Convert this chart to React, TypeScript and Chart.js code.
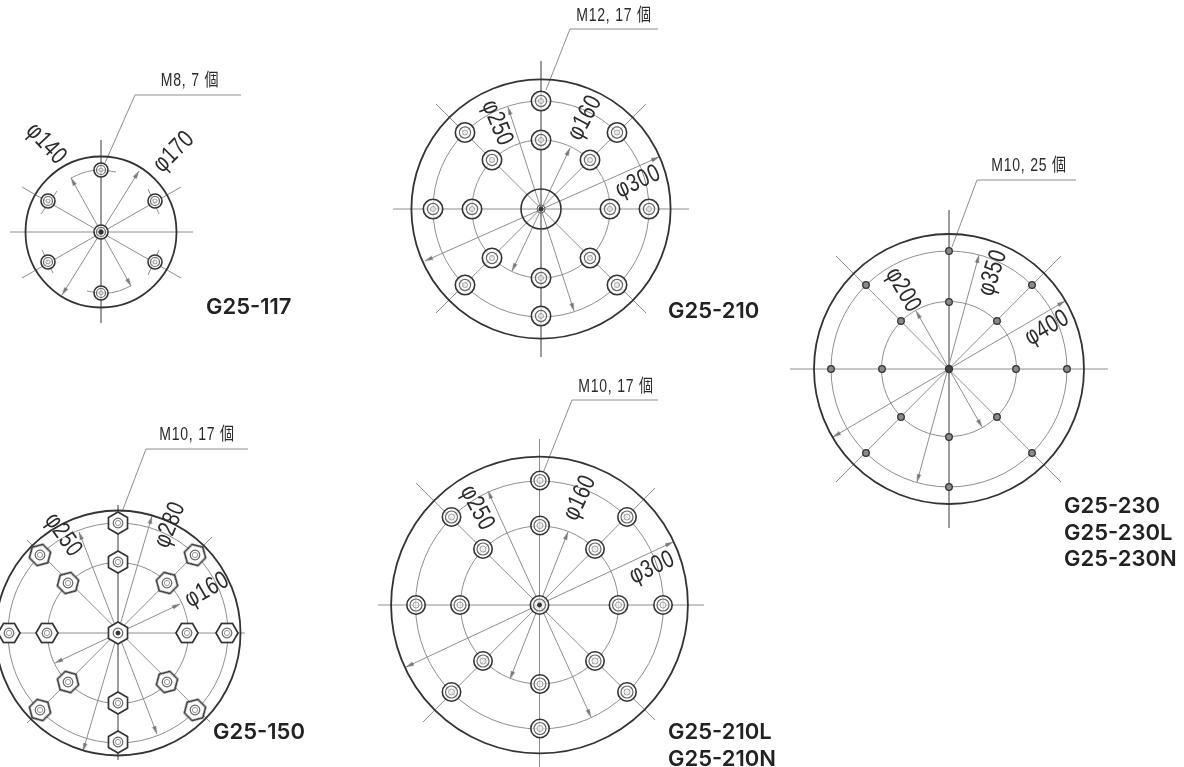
import React, { useEffect, useRef } from "react";
import { Chart, registerables } from "chart.js";

Chart.register(...registerables);

type P = [number, number];
type Seg = [number, number, number, number];

// ---- G25-117
const g117Center: P = [101, 232];
const g117Flange = 75.5;
const g117Bolts: P[] = [[101, 170], [48, 201], [155, 201], [48, 262], [155, 262], [101, 293]];
const g117Axes: Seg[] = [[101, 140, 101, 323], [10, 232, 193, 232], [22, 187, 181, 278], [181, 187, 22, 278]];
const g117Dims: Seg[] = [[139, 171, 62, 295], [71, 178, 131, 286]];
const g117Leader: P[] = [[105, 163], [135, 95], [241, 95]];
const g117ArcTop: P[] = [[71, 178], [80, 174], [90, 171], [101, 170], [116, 172]];
const g117ArcBottom: P[] = [[87, 291], [101, 293], [115, 292], [131, 286]];
const g117Ticks: Seg[] = [[57, 191, 41, 214], [148, 189, 159, 214], [42, 250, 53, 273], [159, 250, 148, 275]];

// ---- G25-210
const g210Center: P = [541, 209];
const g210Flange = 129.6;
const g210Hub = 20;
const g210Rings = [108, 69];
const g210Bolts: P[] = [
  [541, 101], [465, 132.5], [617, 132.5], [433, 209], [649, 209], [465, 285], [617, 285], [541, 316],
  [541, 140], [492, 160], [590, 160], [472, 209], [610, 209], [492, 258], [590, 258], [541, 278],
];
const g210Axes: Seg[] = [[541, 61, 541, 357], [393, 209, 689, 209], [436, 104, 646, 313], [646, 104, 436, 313]];
const g210Dims: Seg[] = [[659, 157, 425, 261], [508, 107, 574, 311], [570, 148, 512, 271]];
const g210Leader: P[] = [[546, 90], [570, 29], [658, 29]];

// ---- G25-230
const g230Center: P = [949, 369];
const g230Flange = 135;
const g230Rings = [118, 67.5];
const g230Bolts: P[] = [
  [949, 251], [866, 285], [1032, 285], [831, 369], [1067, 369], [866, 453], [1032, 453], [949, 487],
  [949, 302], [901, 321], [997, 321], [882, 369], [1016, 369], [901, 417], [997, 417], [949, 437],
];
const g230Axes: Seg[] = [[949, 210, 949, 528], [790, 369, 1108, 369], [836, 256, 1061, 482], [1061, 256, 836, 482]];
const g230Dims: Seg[] = [[1065, 301, 833, 437], [979, 255, 917, 482], [916, 311, 982, 427]];
const g230Leader: P[] = [[952, 247], [977, 180], [1076, 180]];

// ---- G25-150
const g150Center: P = [118, 633];
const g150Flange = 122.5;
const g150Rings = [110, 70.5];
const g150Bolts: P[] = [
  [118, 523], [40, 555], [195, 555], [9, 633], [227, 633], [40, 710], [195, 710], [118, 742],
  [118, 562], [68, 583], [167, 583], [47, 633], [187, 633], [68, 682], [167, 682], [118, 703],
];
const g150Axes: Seg[] = [[118, 505, 118, 760], [0, 633, 245, 633], [27, 540, 210, 722], [212, 537, 27, 723]];
const g150Dims: Seg[] = [[152, 516, 83, 751], [79, 532, 157, 734], [180, 604, 55, 663]];
const g150Leader: P[] = [[122, 512], [146, 449], [248, 449]];

// ---- G25-210L / N
const g210lCenter: P = [539.5, 605];
const g210lFlange = 148.4;
const g210lRings = [124, 79];
const g210lBolts: P[] = [
  [540, 480.5], [451.5, 517], [627, 517], [416, 605], [663, 605], [451.5, 692], [627, 692], [540, 728.5],
  [540, 525.5], [483, 549], [595, 549], [460, 605], [618.5, 605], [483, 661], [595, 661], [540, 684],
];
const g210lAxes: Seg[] = [[539.5, 439, 539.5, 767], [378, 605, 704, 605], [416, 483, 655, 720], [655, 488, 423, 722]];
const g210lDims: Seg[] = [[673, 542, 406, 667], [488, 491, 591, 717], [568, 532, 510, 679]];
const g210lLeader: P[] = [[543, 473], [572, 400], [658, 400]];

// ---- Text
const modelTexts = ["G25-117", "G25-210", "G25-230", "G25-230L", "G25-230N", "G25-150", "G25-210L", "G25-210N"];
const modelX = [206, 668, 1064, 1064, 1064, 213, 668, 668];
const modelY = [307, 311, 506, 533, 559, 732, 732, 759];

const calloutTexts = ["M8, 7 個", "M12, 17 個", "M10, 25 個", "M10, 17 個", "M10, 17 個"];
const calloutX = [190, 614, 1029, 197, 616];
const calloutY = [81, 16, 166, 435, 387];

const diaTexts = ["φ140", "φ170", "φ250", "φ160", "φ300", "φ200", "φ350", "φ400", "φ250", "φ280", "φ160", "φ250", "φ160", "φ300"];
const diaX = [46, 174, 497, 585, 638, 903, 993, 1047, 63, 170, 207, 477, 580, 652];
const diaY = [144, 152, 123, 118, 182, 290, 273, 328, 535, 525, 590, 508, 498, 568];
const diaAngle = [47, -45, 68, -62, -25, 60, -72, -30, 55, -68, -30, 62, -65, -25];

// ---- Colours
const DARK = "#333333";
const MID = "#666666";
const LIGHT = "#8e8e8e";
const PALE = "rgba(255,255,255,0.65)";

function hexagon(): HTMLCanvasElement {
  const c = document.createElement("canvas");
  c.width = 28;
  c.height = 28;
  const g = c.getContext("2d")!;
  g.strokeStyle = DARK;
  g.fillStyle = "#ffffff";
  g.lineWidth = 1.7;
  g.beginPath();
  for (let i = 0; i < 6; i++) {
    const a = (Math.PI / 3) * i;
    const x = 14 + 11 * Math.sin(a);
    const y = 14 - 11 * Math.cos(a);
    if (i === 0) g.moveTo(x, y);
    else g.lineTo(x, y);
  }
  g.closePath();
  g.fill();
  g.stroke();
  return c;
}

function arrowHead(): HTMLCanvasElement {
  const c = document.createElement("canvas");
  c.width = 7;
  c.height = 22;
  const g = c.getContext("2d")!;
  g.fillStyle = "#777777";
  g.beginPath();
  g.moveTo(3.5, 11);
  g.lineTo(1.4, 19);
  g.lineTo(5.6, 19);
  g.closePath();
  g.fill();
  return c;
}

const pts = (list: P[]) => list.map(([x, y]) => ({ x, y }));

function lineSet(list: P[], color: string, width: number, tension = 0) {
  return {
    type: "scatter" as const,
    data: pts(list),
    showLine: true,
    borderColor: color,
    borderWidth: width,
    pointRadius: 0,
    tension,
    fill: false,
  };
}

function ringSet(list: P[], radius: number, color: string, width: number, fill = "rgba(0,0,0,0)") {
  return {
    type: "scatter" as const,
    data: pts(list),
    showLine: false,
    pointStyle: "circle",
    pointRadius: radius,
    pointBorderColor: color,
    pointBorderWidth: width,
    pointBackgroundColor: fill,
  };
}

const bearing = (c: P, p: P) => (Math.atan2(p[0] - c[0], c[1] - p[1]) * 180) / Math.PI;

function arrowSet(center: P, dims: Seg[], img: HTMLCanvasElement) {
  const tips: P[] = [];
  dims.forEach(([a, b, c, d]) => {
    tips.push([a, b], [c, d]);
  });
  return {
    type: "scatter" as const,
    data: pts(tips),
    showLine: false,
    pointStyle: img as any,
    pointRadius: 5,
    pointRotation: tips.map((t) => bearing(center, t)),
  };
}

function segSets(list: Seg[], color: string, width: number) {
  return list.map(([a, b, c, d]) =>
    lineSet([[a, b], [c, d]], color, width),
  );
}

const textPlugin = {
  id: "drawingText",
  afterDatasetsDraw(chart: any) {
    const { ctx, scales } = chart;
    const X = scales.x;
    const Y = scales.y;
    ctx.save();
    ctx.textBaseline = "middle";
    ctx.fillStyle = "#222222";
    ctx.textAlign = "left";
    ctx.font = '600 22px Inter, "Noto Sans", sans-serif';
    modelTexts.forEach((t, i) => {
      ctx.fillText(t, X.getPixelForValue(modelX[i]), Y.getPixelForValue(modelY[i]));
    });
    ctx.textAlign = "center";
    ctx.fillStyle = "#2b2b2b";
    ctx.font = '18px "Liberation Sans", "Noto Sans CJK JP", sans-serif';
    ctx.letterSpacing = "1px";
    calloutTexts.forEach((t, i) => {
      ctx.save();
      ctx.translate(X.getPixelForValue(calloutX[i]), Y.getPixelForValue(calloutY[i]));
      ctx.scale(0.78, 1);
      ctx.fillText(t, 0, 0);
      ctx.restore();
    });
    ctx.font = '25px "Liberation Sans", sans-serif';
    ctx.letterSpacing = "0.5px";
    diaTexts.forEach((t, i) => {
      ctx.save();
      ctx.translate(X.getPixelForValue(diaX[i]), Y.getPixelForValue(diaY[i]));
      ctx.rotate((diaAngle[i] * Math.PI) / 180);
      ctx.scale(0.78, 1);
      ctx.fillText(t, 0, 0);
      ctx.restore();
    });
    ctx.restore();
  },
};

export default function App() {
  const ref = useRef<HTMLCanvasElement>(null);

  useEffect(() => {
    const hex = hexagon();
    const arrow = arrowHead();

    const datasets: any[] = [
      // G25-117
      ...segSets(g117Axes, LIGHT, 1),
      ...segSets(g117Dims, LIGHT, 1),
      ...segSets(g117Ticks, LIGHT, 1),
      lineSet(g117Leader, LIGHT, 1),
      lineSet(g117ArcTop, LIGHT, 1, 0.4),
      lineSet(g117ArcBottom, LIGHT, 1, 0.4),
      arrowSet(g117Center, g117Dims, arrow),
      ringSet([g117Center], g117Flange, DARK, 1.8),
      ringSet([...g117Bolts, g117Center], 7, DARK, 1.6, PALE),
      ringSet([...g117Bolts, g117Center], 4.5, MID, 1.2),
      ringSet(g117Bolts, 2, LIGHT, 0.8),
      ringSet([g117Center], 2.2, DARK, 1, DARK),

      // G25-210
      ...segSets(g210Axes, LIGHT, 1),
      ...segSets(g210Dims, LIGHT, 1),
      lineSet(g210Leader, LIGHT, 1),
      arrowSet(g210Center, g210Dims, arrow),
      ringSet([g210Center], g210Flange, DARK, 1.8),
      ringSet([g210Center], g210Rings[0], LIGHT, 1),
      ringSet([g210Center], g210Rings[1], LIGHT, 1),
      ringSet([g210Center], g210Hub, DARK, 1.6),
      ringSet(g210Bolts, 9.7, DARK, 1.6, PALE),
      ringSet(g210Bolts, 5.6, MID, 1.2),
      ringSet(g210Bolts, 2.5, LIGHT, 0.8),
      ringSet([g210Center], 4, MID, 1),
      ringSet([g210Center], 2, DARK, 1, DARK),

      // G25-230
      ...segSets(g230Axes, LIGHT, 1),
      ...segSets(g230Dims, LIGHT, 1),
      lineSet(g230Leader, LIGHT, 1),
      arrowSet(g230Center, g230Dims, arrow),
      ringSet([g230Center], g230Flange, DARK, 1.8),
      ringSet([g230Center], g230Rings[0], LIGHT, 1),
      ringSet([g230Center], g230Rings[1], LIGHT, 1),
      ringSet(g230Bolts, 3.3, DARK, 1.3, "#8a8a8a"),
      ringSet([g230Center], 3.5, DARK, 1.3, "#444444"),

      // G25-150
      ...segSets(g150Axes, LIGHT, 1),
      ...segSets(g150Dims, LIGHT, 1),
      lineSet(g150Leader, LIGHT, 1),
      arrowSet(g150Center, g150Dims, arrow),
      ringSet([g150Center], g150Flange, DARK, 1.8),
      ringSet([g150Center], g150Rings[0], LIGHT, 1),
      ringSet([g150Center], g150Rings[1], LIGHT, 1),
      {
        type: "scatter",
        data: pts([...g150Bolts, g150Center]),
        showLine: false,
        pointStyle: hex,
        pointRadius: 5,
        pointRotation: g150Bolts.map((b) => bearing(g150Center, b)).concat(0),
      },
      ringSet([...g150Bolts, g150Center], 4.8, MID, 1.2),
      ringSet(g150Bolts, 2.6, LIGHT, 0.9),
      ringSet([g150Center], 2, DARK, 1, DARK),

      // G25-210L / N
      ...segSets(g210lAxes, LIGHT, 1),
      ...segSets(g210lDims, LIGHT, 1),
      lineSet(g210lLeader, LIGHT, 1),
      arrowSet(g210lCenter, g210lDims, arrow),
      ringSet([g210lCenter], g210lFlange, DARK, 1.8),
      ringSet([g210lCenter], g210lRings[0], LIGHT, 1),
      ringSet([g210lCenter], g210lRings[1], LIGHT, 1),
      ringSet([...g210lBolts, g210lCenter], 9.2, DARK, 1.6, PALE),
      ringSet([...g210lBolts, g210lCenter], 6, MID, 1.2),
      ringSet(g210lBolts, 3, LIGHT, 0.8),
      ringSet([g210lCenter], 2, DARK, 1, DARK),
    ];

    // earlier entries in each group are drawn beneath later ones
    datasets.forEach((d, i) => {
      d.order = datasets.length - i;
      d.clip = false;
    });

    const chart = new Chart(ref.current!, {
      type: "scatter",
      data: { datasets },
      options: {
        responsive: false,
        animation: false,
        events: [],
        layout: { padding: 0, autoPadding: false },
        plugins: { legend: { display: false }, tooltip: { enabled: false }, title: { display: false } },
        scales: {
          x: { type: "linear", min: 0, max: 1184, display: false },
          y: { type: "linear", min: 0, max: 767, reverse: true, display: false },
        },
      },
      plugins: [textPlugin],
    });
    return () => chart.destroy();
  }, []);

  return (
    <div style={{ position: "absolute", left: 0, top: 0, width: 1184, height: 767, background: "#fff" }}>
      <canvas ref={ref} width={1184} height={767} style={{ display: "block", width: 1184, height: 767 }} />
    </div>
  );
}
